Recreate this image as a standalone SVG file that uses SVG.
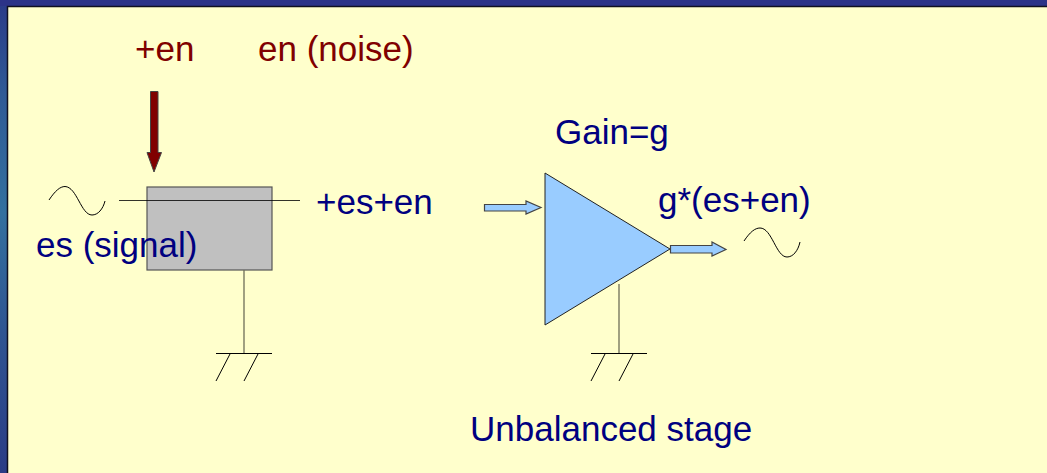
<svg xmlns="http://www.w3.org/2000/svg" width="1047" height="473" viewBox="0 0 1047 473">
<defs>
<linearGradient id="bg" x1="0" y1="0" x2="0" y2="1">
<stop offset="0" stop-color="#2a3a88"/><stop offset="0.2" stop-color="#2f5a96"/><stop offset="0.45" stop-color="#33709f"/><stop offset="0.7" stop-color="#2f5592"/><stop offset="1" stop-color="#2a3c86"/>
</linearGradient>
</defs>
<style>
text{font-family:"Liberation Sans",Arial,sans-serif;font-size:35px}
.b{fill:#000080}
.r{fill:#800000}
.w{fill:none;stroke:#000;stroke-width:1}
.g{fill:none;stroke:#6e6e58;stroke-width:1.3}
.ar{fill:#99ccff;stroke:#444;stroke-width:1.2}
</style>
<rect width="1047" height="473" fill="url(#bg)"/>
<rect x="0" y="0" width="1047" height="6" fill="#2c3388"/>
<rect x="7.500" y="6.500" width="1045" height="470" fill="#ffffcc" stroke="#101020" stroke-width="1.500"/>
<g id="labels">
<text class="r" x="135" y="61">+en</text>
<text class="r" x="258" y="61">en (noise)</text>
<text class="b" x="555" y="144">Gain=g</text>
<text class="b" x="316" y="214">+es+en</text>
<text class="b" x="658" y="212">g*(es+en)</text>
<text class="b" x="470" y="441">Unbalanced stage</text>
</g>
<g id="mixer">
<rect x="147" y="187" width="125" height="83" fill="#c0c0c0" stroke="#555" stroke-width="1.200"/>
</g>
<g id="amplifier">
<polygon points="545,173 670,249 545,325" fill="#99ccff" stroke="#222" stroke-width="1"/>
</g>
<g id="signal-in"><path class="w" d="M49,200 C55,191 60,186.500 65,186.500 C77,187 81,215 92,215 C98,215 103,209 105,201"/></g>
<g id="signal-out"><path class="w" d="M744,241 C750,232 755,228 760,228 C772,228 776,257 787,257 C793,257 798,251 800,242"/></g>
<g id="connectors">
<line class="w" x1="119" y1="200.500" x2="300" y2="200.500" stroke-opacity="0.8"/>
<path d="M150.500,91.500H158V152.500H161.500L154,172L147,152.500H150.500Z" fill="#800000" stroke="#444" stroke-width="1"/>
<path class="ar" d="M484.500,204.500H526V201L541,207.500L526,214V211H484.500Z"/>
<path class="ar" d="M670.500,245.500H712V242L726,249.500L712,256V253H670.500Z"/>
<line class="g" x1="244" y1="270" x2="244" y2="353"/>
<line class="w" x1="216" y1="353.500" x2="272" y2="353.500"/>
<line class="w" x1="230" y1="354" x2="216" y2="381"/>
<line class="w" x1="258" y1="354" x2="244" y2="381"/>
<line class="g" x1="619" y1="284" x2="619" y2="353"/>
<line class="w" x1="591" y1="353.500" x2="647" y2="353.500"/>
<line class="w" x1="605" y1="354" x2="591" y2="381"/>
<line class="w" x1="633" y1="354" x2="619" y2="381"/>
</g>
<text class="b" x="36" y="257">es (signal)</text>
</svg>
